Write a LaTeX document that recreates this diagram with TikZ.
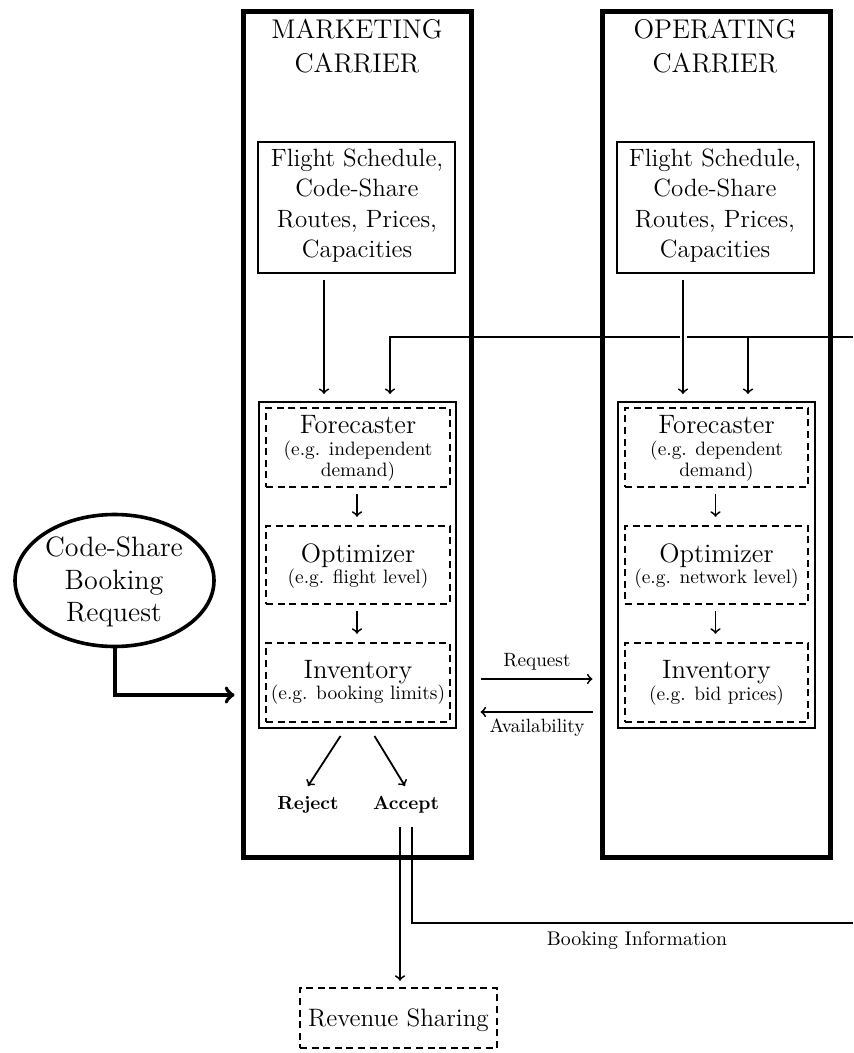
\documentclass[tikz,border=0pt]{standalone}
\usetikzlibrary{calc,shapes.geometric}
\newcommand{\fTitle}{\fontsize{13.5}{16}\selectfont}
\newcommand{\fFS}{\fontsize{12.5}{15}\selectfont}
\newcommand{\fBig}{\fontsize{13.3}{16}\selectfont}
\newcommand{\fSml}{\fontsize{9.7}{11}\selectfont}
\newcommand{\fLbl}{\fontsize{9.6}{11}\selectfont}
\newcommand{\fBI}{\fontsize{9.9}{11}\selectfont}
\newcommand{\fBld}{\fontsize{9.5}{11}\selectfont\bfseries}
\newcommand{\fEll}{\fontsize{14}{16}\selectfont}
\newcommand{\fRev}{\fontsize{12.6}{15}\selectfont}
\begin{document}
\begin{tikzpicture}[x=0.5pt,y=-0.5pt,
  outerbox/.style={draw, line width=2.5pt, minimum width=114pt, minimum height=422.5pt, inner sep=0pt},
  fsbox/.style={draw, line width=1pt, minimum width=98.5pt, minimum height=65.5pt, inner sep=0pt},
  grpbox/.style={draw, line width=1pt, minimum width=98.5pt, minimum height=163pt, inner sep=0pt},
  dbox/.style={draw, line width=1.2pt, dash pattern=on 3.5pt off 2.3pt, minimum width=92pt, minimum height=39.5pt, inner sep=0pt},
  arr/.style={->, line width=0.9pt},
  thickarr/.style={->, line width=2pt},
  txt/.style={anchor=base, inner sep=0pt, outer sep=0pt},
]
\useasboundingbox (0,0) rectangle (853,1053);

% outer carrier boxes
\node[outerbox] (mc) at (357,434.5) {};
\node[outerbox] (oc) at (716,434.5) {};
\node[txt, font=\fTitle] (mcT1) at (357,39) {MARKETING};
\node[txt, font=\fTitle] (mcT2) at (357,73) {CARRIER};
\node[txt, font=\fTitle] (ocT1) at (715,39) {OPERATING};
\node[txt, font=\fTitle] (ocT2) at (715,73) {CARRIER};

% flight schedule boxes
\node[fsbox] (mfs) at (356.5,207.5) {};
\node[fsbox] (ofs) at (715,207.5) {};
\node[txt, font=\fFS] (mfs1) at (357,167) {Flight Schedule,};
\node[txt, font=\fFS] (mfs2) at (357,197) {Code-Share};
\node[txt, font=\fFS] (mfs3) at (357,228) {Routes, Prices,};
\node[txt, font=\fFS] (mfs4) at (357,258) {Capacities};
\node[txt, font=\fFS] (ofs1) at (715,167) {Flight Schedule,};
\node[txt, font=\fFS] (ofs2) at (715,197) {Code-Share};
\node[txt, font=\fFS] (ofs3) at (715,228) {Routes, Prices,};
\node[txt, font=\fFS] (ofs4) at (715,258) {Capacities};

% RM groups
\node[grpbox] (mgrp) at (357.5,565) {};
\node[grpbox] (ogrp) at (716,565) {};
\node[dbox] (mF) at (358,447.5) {};
\node[dbox, minimum height=39pt] (mO) at (358,565) {};
\node[dbox] (mI) at (358,682.5) {};
\node[dbox, minimum width=91.5pt] (oF) at (716.5,447.5) {};
\node[dbox, minimum width=91.5pt, minimum height=39pt] (oO) at (716.5,565) {};
\node[dbox, minimum width=91.5pt] (oI) at (716.5,682.5) {};

\node[txt, font=\fBig] (mF1) at (358,433) {Forecaster};
\node[txt, font=\fSml] (mF2) at (358,455) {(e.g. independent};
\node[txt, font=\fSml] (mF3) at (358,476) {demand)};
\node[txt, font=\fBig] (mO1) at (358,562) {Optimizer};
\node[txt, font=\fSml] (mO2) at (358,583) {(e.g. flight level)};
\node[txt, font=\fBig] (mI1) at (358,678) {Inventory};
\node[txt, font=\fSml] (mI2) at (358,699) {(e.g. booking limits)};

\node[txt, font=\fBig] (oF1) at (716.5,433) {Forecaster};
\node[txt, font=\fSml] (oF2) at (716.5,455) {(e.g. dependent};
\node[txt, font=\fSml] (oF3) at (716.5,476) {demand)};
\node[txt, font=\fBig] (oO1) at (716.5,562) {Optimizer};
\node[txt, font=\fSml] (oO2) at (716.5,583) {(e.g. network level)};
\node[txt, font=\fBig] (oI1) at (716.5,678) {Inventory};
\node[txt, font=\fSml] (oI2) at (716.5,700) {(e.g. bid prices)};

% inner arrows
\draw[arr] ($(mF.south)+(-1,6)$) -- ($(mO.north)+(-1,-8)$);
\draw[arr] ($(mO.south)+(-1,6)$) -- ($(mI.north)+(-1,-8)$);
\draw[arr] ($(oF.south)+(-1,6)$) -- ($(oO.north)+(-1,-8)$);
\draw[arr] ($(oO.south)+(-1,6)$) -- ($(oI.north)+(-1,-8)$);

% schedule -> forecaster (marketing)
\draw[arr] ($(mfs.south)+(-32.5,6)$) -- ($(mgrp.north)+(-33.5,-7)$);

% feedback line from the right
\coordinate (fbR) at (853,337);
\draw[arr] (fbR) -| ($(mgrp.north)+(32.5,-7)$);
\draw[arr] ($(ogrp.north)+(32,-65)$) -- ($(ogrp.north)+(32,-7)$);
% schedule -> forecaster (operating), crossing the feedback line
\draw[arr, preaction={draw=white, line width=3.5pt, -}] ($(ofs.south)+(-32,6)$) -- ($(ogrp.north)+(-33,-7)$);

% request / availability
\draw[arr] ($(mc.east)+(7,244.5)$) -- ($(oc.west)+(-7,244.5)$);
\draw[arr] ($(oc.west)+(-7,277.5)$) -- ($(mc.east)+(7,277.5)$);
\node[txt, font=\fLbl] (req) at (537,666) {Request};
\node[txt, font=\fLbl] (avl) at (537,732) {Availability};

% reject / accept
\node[txt, font=\fBld] (rej) at (308,809) {Reject};
\node[txt, font=\fBld] (acc) at (406,809) {Accept};
\draw[arr] ($(mgrp.south)+(-17,7)$) -- ($(rej.base)+(0,-23)$);
\draw[arr] ($(mgrp.south)+(17,7)$) -- ($(acc.base)+(-1,-23)$);

% revenue sharing
\node[dbox, minimum width=98.5pt, minimum height=30pt] (rev) at (398.5,1018) {};
\node[txt, font=\fRev] (revT) at (398.5,1026) {Revenue Sharing};
\draw[arr, shorten >=3pt] ($(acc.base)+(-6,18)$) coordinate (r0) -- (r0 |- rev.north);

% booking information
\coordinate (biR) at (853,923);
\draw[line width=0.9pt] ($(acc.base)+(6,18)$) |- (biR);
\node[txt, font=\fBI] (bi) at (637,945) {Booking Information};

% code-share booking request
\node[draw, ellipse, line width=1.8pt, minimum width=99.5pt, minimum height=66pt, inner sep=0pt] (ell) at (114.5,580.5) {};
\node[txt, font=\fEll] (e1) at (114,556) {Code-Share};
\node[txt, font=\fEll] (e2) at (114,589) {Booking};
\node[txt, font=\fEll] (e3) at (114,621) {Request};
\draw[thickarr] (ell.south) |- ($(mc.west)+(-6,260.5)$);
\end{tikzpicture}
\end{document}
